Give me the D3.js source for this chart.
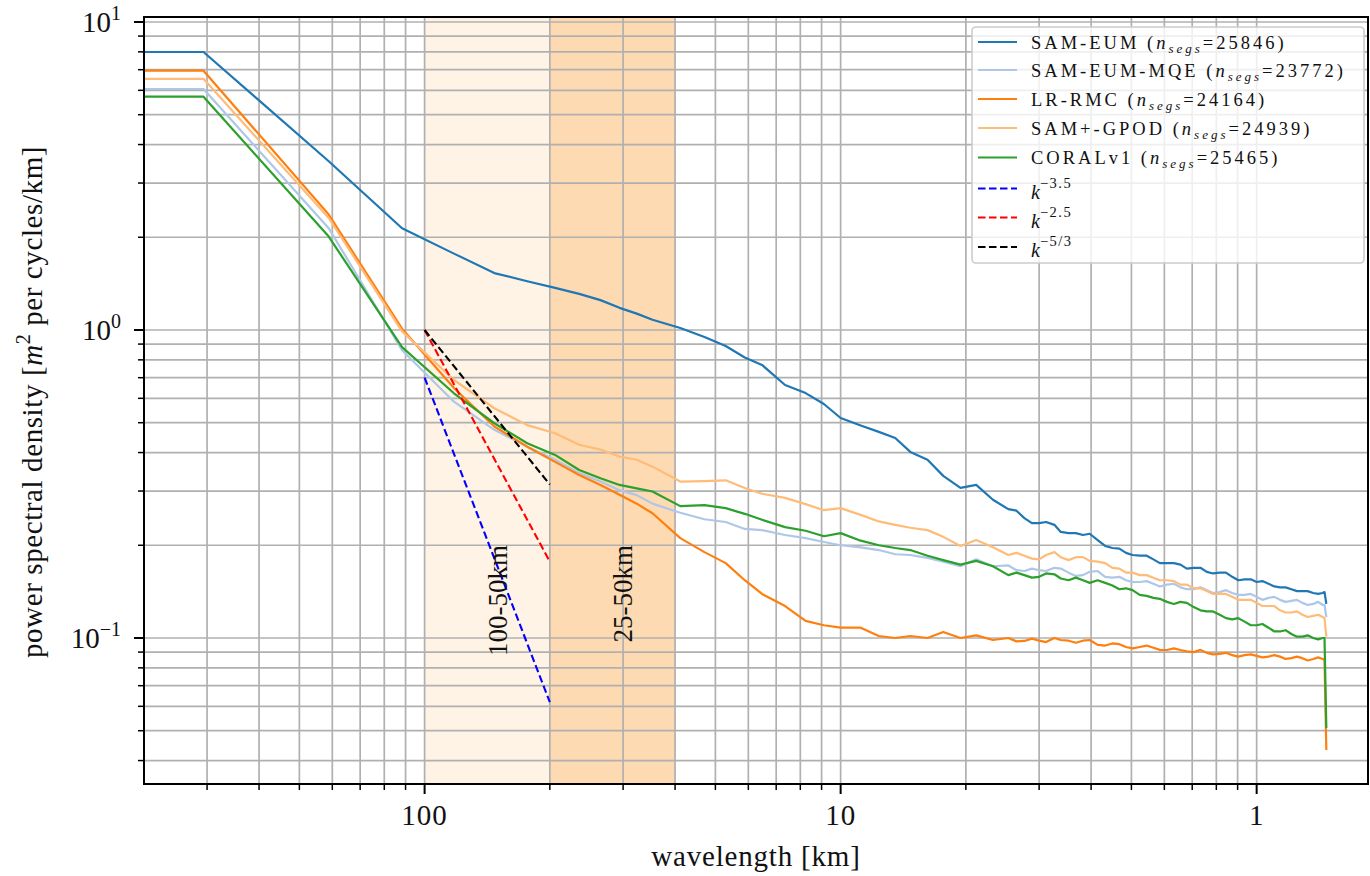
<!DOCTYPE html>
<html><head><meta charset="utf-8">
<script src="https://cdn.jsdelivr.net/npm/d3@7"></script>
<style>
body{margin:0;background:#fff}
text{font-family:"Liberation Serif","Times New Roman",serif;fill:#111}
</style>
</head><body>
<svg id="chart" width="1370" height="876"></svg>
<script>
// ---- data (wavelength in km; PSD in m^2 per cycles/km) ----
const wavelengthKm = [340,170,113.3,85,68,56.67,48.57,42.5,37.78,34,30.91,28.33,
  24.29,21.25,18.89,17,15.45,13.6,12.14,10.97,10,
  8.947,8.095,7.391,6.8,6.182,5.667,5.152,4.722,4.304,
  3.953,3.778,3.617,3.469,3.333,3.208,3.063,2.957,2.833,2.72,
  2.615,2.519,2.411,2.313,2.222,2.138,2.061,1.988,1.910,1.838,
  1.771,1.709,1.643,1.581,1.525,1.472,1.417,1.365,1.318,1.273,
  1.227,1.185,1.145,1.107,1.069,1.033,1.0,0.9687,0.9366,0.9067,
  0.8786,0.8521,0.8252,0.8,0.7763,0.7539,0.7312,0.7113,0.6939,0.6869,
  0.68];
const samEum = [7.99,3.53,2.14,1.77,1.53,1.44,1.37,1.31,1.25,1.18,1.13,1.08,
  1.015,0.949,0.887,0.814,0.77,0.663,0.624,0.575,0.518,
  0.49,0.467,0.446,0.402,0.379,0.336,0.307,0.314,0.281,
  0.262,0.259,0.245,0.236,0.236,0.238,0.233,0.221,0.219,0.219,
  0.216,0.218,0.208,0.199,0.196,0.195,0.189,0.186,0.185,0.185,
  0.180,0.175,0.175,0.175,0.173,0.168,0.169,0.169,0.164,0.162,
  0.163,0.163,0.158,0.154,0.155,0.155,0.152,0.153,0.150,0.147,
  0.146,0.146,0.144,0.142,0.142,0.142,0.140,0.139,0.140,0.141,
  0.129];
const samEumMqe = [6.06,2.14,0.86,0.585,0.474,0.418,0.379,0.343,0.322,0.302,0.291,0.273,
  0.255,0.243,0.238,0.226,0.224,0.216,0.211,0.205,0.200,
  0.197,0.193,0.187,0.186,0.182,0.177,0.171,0.180,0.171,
  0.172,0.166,0.165,0.168,0.166,0.165,0.169,0.168,0.163,0.159,
  0.160,0.164,0.165,0.158,0.157,0.158,0.154,0.152,0.152,0.153,
  0.150,0.147,0.149,0.150,0.146,0.144,0.144,0.146,0.143,0.140,
  0.141,0.143,0.140,0.138,0.138,0.139,0.136,0.133,0.135,0.136,
  0.133,0.131,0.132,0.133,0.130,0.128,0.129,0.131,0.128,0.128,
  0.117];
const lrRmc = [6.95,2.37,1.01,0.648,0.486,0.418,0.373,0.338,0.314,0.292,0.273,0.254,
  0.211,0.190,0.175,0.154,0.139,0.127,0.1136,0.110,0.108,
  0.108,0.1015,0.100,0.1015,0.100,0.1046,0.100,0.102,0.0985,
  0.100,0.0975,0.0978,0.0995,0.098,0.097,0.100,0.0985,0.098,0.0965,
  0.098,0.0985,0.095,0.0945,0.096,0.0955,0.0935,0.0925,0.0935,0.0945,
  0.093,0.0915,0.0914,0.0925,0.0914,0.0905,0.090,0.0915,0.0895,0.0885,
  0.0888,0.0895,0.088,0.087,0.088,0.0885,0.0875,0.0865,0.087,0.088,
  0.087,0.0855,0.086,0.087,0.086,0.0845,0.0855,0.0865,0.0855,0.085,
  0.0433];
const samPlusGpod = [6.54,2.31,0.99,0.688,0.557,0.491,0.462,0.424,0.409,0.388,0.379,0.36,
  0.322,0.323,0.325,0.307,0.294,0.285,0.272,0.260,0.264,
  0.251,0.239,0.233,0.228,0.224,0.213,0.199,0.208,0.197,
  0.186,0.189,0.185,0.181,0.180,0.186,0.19,0.183,0.179,0.183,
  0.183,0.178,0.177,0.175,0.169,0.168,0.163,0.163,0.160,0.160,
  0.157,0.154,0.154,0.153,0.149,0.149,0.145,0.145,0.142,0.139,
  0.139,0.139,0.136,0.133,0.133,0.133,0.130,0.127,0.127,0.127,
  0.123,0.121,0.121,0.122,0.119,0.117,0.118,0.119,0.117,0.116,
  0.101];
const coralV1 = [5.72,2.01,0.88,0.623,0.498,0.429,0.393,0.351,0.330,0.314,0.306,0.299,
  0.268,0.270,0.264,0.253,0.242,0.229,0.223,0.214,0.219,
  0.207,0.200,0.196,0.193,0.185,0.179,0.173,0.178,0.171,
  0.160,0.163,0.160,0.157,0.158,0.162,0.161,0.156,0.154,0.157,
  0.154,0.151,0.154,0.151,0.148,0.144,0.145,0.143,0.138,0.137,
  0.135,0.134,0.131,0.129,0.131,0.130,0.126,0.123,0.122,0.122,
  0.119,0.116,0.115,0.116,0.113,0.110,0.110,0.111,0.108,0.105,
  0.105,0.106,0.103,0.101,0.101,0.102,0.100,0.099,0.100,0.100,
  0.051];

const seriesNames = ["SAM-EUM","SAM-EUM-MQE","LR-RMC","SAM+-GPOD","CORALv1"];
const seriesCounts = [25846,23772,24164,24939,25465];
const seriesColors = ["#1f77b4","#aec7e8","#ff7f0e","#ffbb78","#2ca02c"];
const seriesValues = [samEum,samEumMqe,lrRmc,samPlusGpod,coralV1];

// reference power laws, drawn between 100 km and 50 km
const refWavelengthKm = [100,50];
const refSlope35 = [0.70,0.0619];
const refSlope25 = [1.0,0.177];
const refSlope53 = [1.0,0.315];
const refExponents = ["\u22123.5","\u22122.5","\u22125/3"];
const refColors = ["#0000ff","#ff0000","#000000"];

// shaded bands (km)
const bandLight = [100,50];
const bandDark = [50,25];
const bandLabels = ["100-50km","25-50km"];
const bandLabelWavelength = [66,33];

const xTickWavelengths = [100,10,1];
const xTickLabels = ["100","10","1"];
const yTickValues = [10,1,0.1];
const yTickExponents = ["1","0","\u22121"];

// ---- layout ----
const L=144,R=1368,T=17,B=784;
const svg=d3.select("#chart");

const x=d3.scaleLog().domain([0.002116,1.852]).range([L,R]);   // wavenumber (cycles/km)
const y=d3.scaleLog().domain([0.03357,10.38]).range([B,T]);
const kx = lam => x(1/lam);

svg.append("defs").append("clipPath").attr("id","plotclip")
  .append("rect").attr("x",L).attr("y",T).attr("width",R-L).attr("height",B-T);

// bands
svg.append("rect").attr("x",kx(bandLight[0])).attr("y",T)
  .attr("width",kx(bandLight[1])-kx(bandLight[0])).attr("height",B-T).attr("fill","#fff3e5");
svg.append("rect").attr("x",kx(bandDark[0])).attr("y",T)
  .attr("width",kx(bandDark[1])-kx(bandDark[0])).attr("height",B-T).attr("fill","#fddab2");

// tick sets
const xMinor=[], yMinor=[];
[0.001,0.01,0.1,1].forEach(d=>{for(let m=2;m<=9;m++){const v=d*m; if(v>=x.domain()[0]&&v<=x.domain()[1]) xMinor.push(v);}});
[0.01,0.1,1].forEach(d=>{for(let m=2;m<=9;m++){const v=d*m; if(v>=y.domain()[0]&&v<=y.domain()[1]) yMinor.push(v);}});
const xMajor = xTickWavelengths.map(w=>1/w);

// grid
const grid=svg.append("g").attr("stroke","#b0b0b0").attr("stroke-width",1.7);
xMajor.concat(xMinor).forEach(k=>grid.append("line").attr("x1",x(k)).attr("x2",x(k)).attr("y1",T).attr("y2",B));
yTickValues.concat(yMinor).forEach(v=>{ if(v<=y.domain()[1]) grid.append("line").attr("x1",L).attr("x2",R).attr("y1",y(v)).attr("y2",y(v));});

// data lines
const plot=svg.append("g").attr("clip-path","url(#plotclip)");
const line=d3.line().x(d=>d[0]).y(d=>y(d[1]));
seriesValues.forEach((vals,i)=>{
  const pts=[[L-5,vals[0]]].concat(wavelengthKm.map((w,j)=>[kx(w),vals[j]]));
  plot.append("path").attr("d",line(pts)).attr("fill","none")
    .attr("stroke",seriesColors[i]).attr("stroke-width",2.2).attr("stroke-linejoin","round");
});
// reference lines
[refSlope35,refSlope25,refSlope53].forEach((vals,i)=>{
  const pts=refWavelengthKm.map((w,j)=>[kx(w),vals[j]]);
  plot.append("path").attr("d",line(pts)).attr("fill","none")
    .attr("stroke",refColors[i]).attr("stroke-width",2.1).attr("stroke-dasharray","7.5,3.5");
});

// band labels
bandLabels.forEach((t,i)=>{
  svg.append("text").attr("transform",`translate(${kx(bandLabelWavelength[i])+7},545) rotate(-90)`)
    .attr("text-anchor","end").attr("font-size",27).text(t);
});

// spines
svg.append("rect").attr("x",L).attr("y",T).attr("width",R-L).attr("height",B-T)
  .attr("fill","none").attr("stroke","#000").attr("stroke-width",2);

// ticks
const tk=svg.append("g").attr("stroke","#000");
xMajor.forEach(k=>tk.append("line").attr("x1",x(k)).attr("x2",x(k)).attr("y1",B).attr("y2",B+10).attr("stroke-width",2));
xMinor.forEach(k=>tk.append("line").attr("x1",x(k)).attr("x2",x(k)).attr("y1",B).attr("y2",B+6).attr("stroke-width",1.5));
yTickValues.forEach(v=>tk.append("line").attr("x1",L).attr("x2",L-10).attr("y1",y(v)).attr("y2",y(v)).attr("stroke-width",2));
yMinor.forEach(v=>tk.append("line").attr("x1",L).attr("x2",L-6).attr("y1",y(v)).attr("y2",y(v)).attr("stroke-width",1.5));

// tick labels
xMajor.forEach((k,i)=>svg.append("text").attr("x",x(k)).attr("y",825).attr("text-anchor","middle")
  .attr("font-size",29).attr("letter-spacing",1).text(xTickLabels[i]));
yTickValues.forEach((v,i)=>{
  const t=svg.append("text").attr("x",121).attr("y",y(v)+10).attr("text-anchor","end").attr("font-size",29);
  t.append("tspan").text("10");
  t.append("tspan").attr("dy",-12).attr("font-size",20).text(yTickExponents[i]);
});

// axis labels
svg.append("text").attr("x",(L+R)/2).attr("y",866).attr("text-anchor","middle")
  .attr("font-size",29).attr("letter-spacing",0.8).text("wavelength [km]");
const yl=svg.append("text").attr("transform","translate(42,402) rotate(-90)").attr("text-anchor","middle")
  .attr("font-size",29).attr("letter-spacing",0.6);
yl.append("tspan").text("power spectral density [");
yl.append("tspan").attr("font-style","italic").text("m");
yl.append("tspan").attr("dy",-12).attr("font-size",20).text("2");
yl.append("tspan").attr("dy",12).text(" per cycles/km]");

// legend
const lg=svg.append("g");
lg.append("rect").attr("x",972).attr("y",27).attr("width",392).attr("height",236).attr("rx",4)
  .attr("fill","#fff").attr("fill-opacity",0.8).attr("stroke","#cccccc").attr("stroke-width",1.6);
const rowY=[42,70,99,128,157.5,188.5,217.5,247];
seriesNames.forEach((nm,i)=>{
  const yy=rowY[i];
  lg.append("line").attr("x1",978).attr("x2",1017).attr("y1",yy).attr("y2",yy)
    .attr("stroke",seriesColors[i]).attr("stroke-width",2.2);
  const t=lg.append("text").attr("x",1031).attr("y",yy+6.5).attr("font-size",18.5).attr("letter-spacing",3.0);
  t.append("tspan").text(nm+" (");
  t.append("tspan").attr("font-style","italic").text("n");
  t.append("tspan").attr("font-style","italic").attr("font-size",13).attr("dy",4).text("segs");
  t.append("tspan").attr("dy",-4).text("="+seriesCounts[i]+")");
});
refExponents.forEach((ex,i)=>{
  const yy=rowY[5+i];
  lg.append("line").attr("x1",978).attr("x2",1017).attr("y1",yy).attr("y2",yy)
    .attr("stroke",refColors[i]).attr("stroke-width",2.1).attr("stroke-dasharray","7.5,3.5");
  const t=lg.append("text").attr("x",1031).attr("y",yy+10).attr("font-size",20);
  t.append("tspan").attr("font-style","italic").text("k");
  t.append("tspan").attr("dy",-11).attr("font-size",14.5).attr("letter-spacing",1.5).text(ex);
});
</script>
</body></html>
